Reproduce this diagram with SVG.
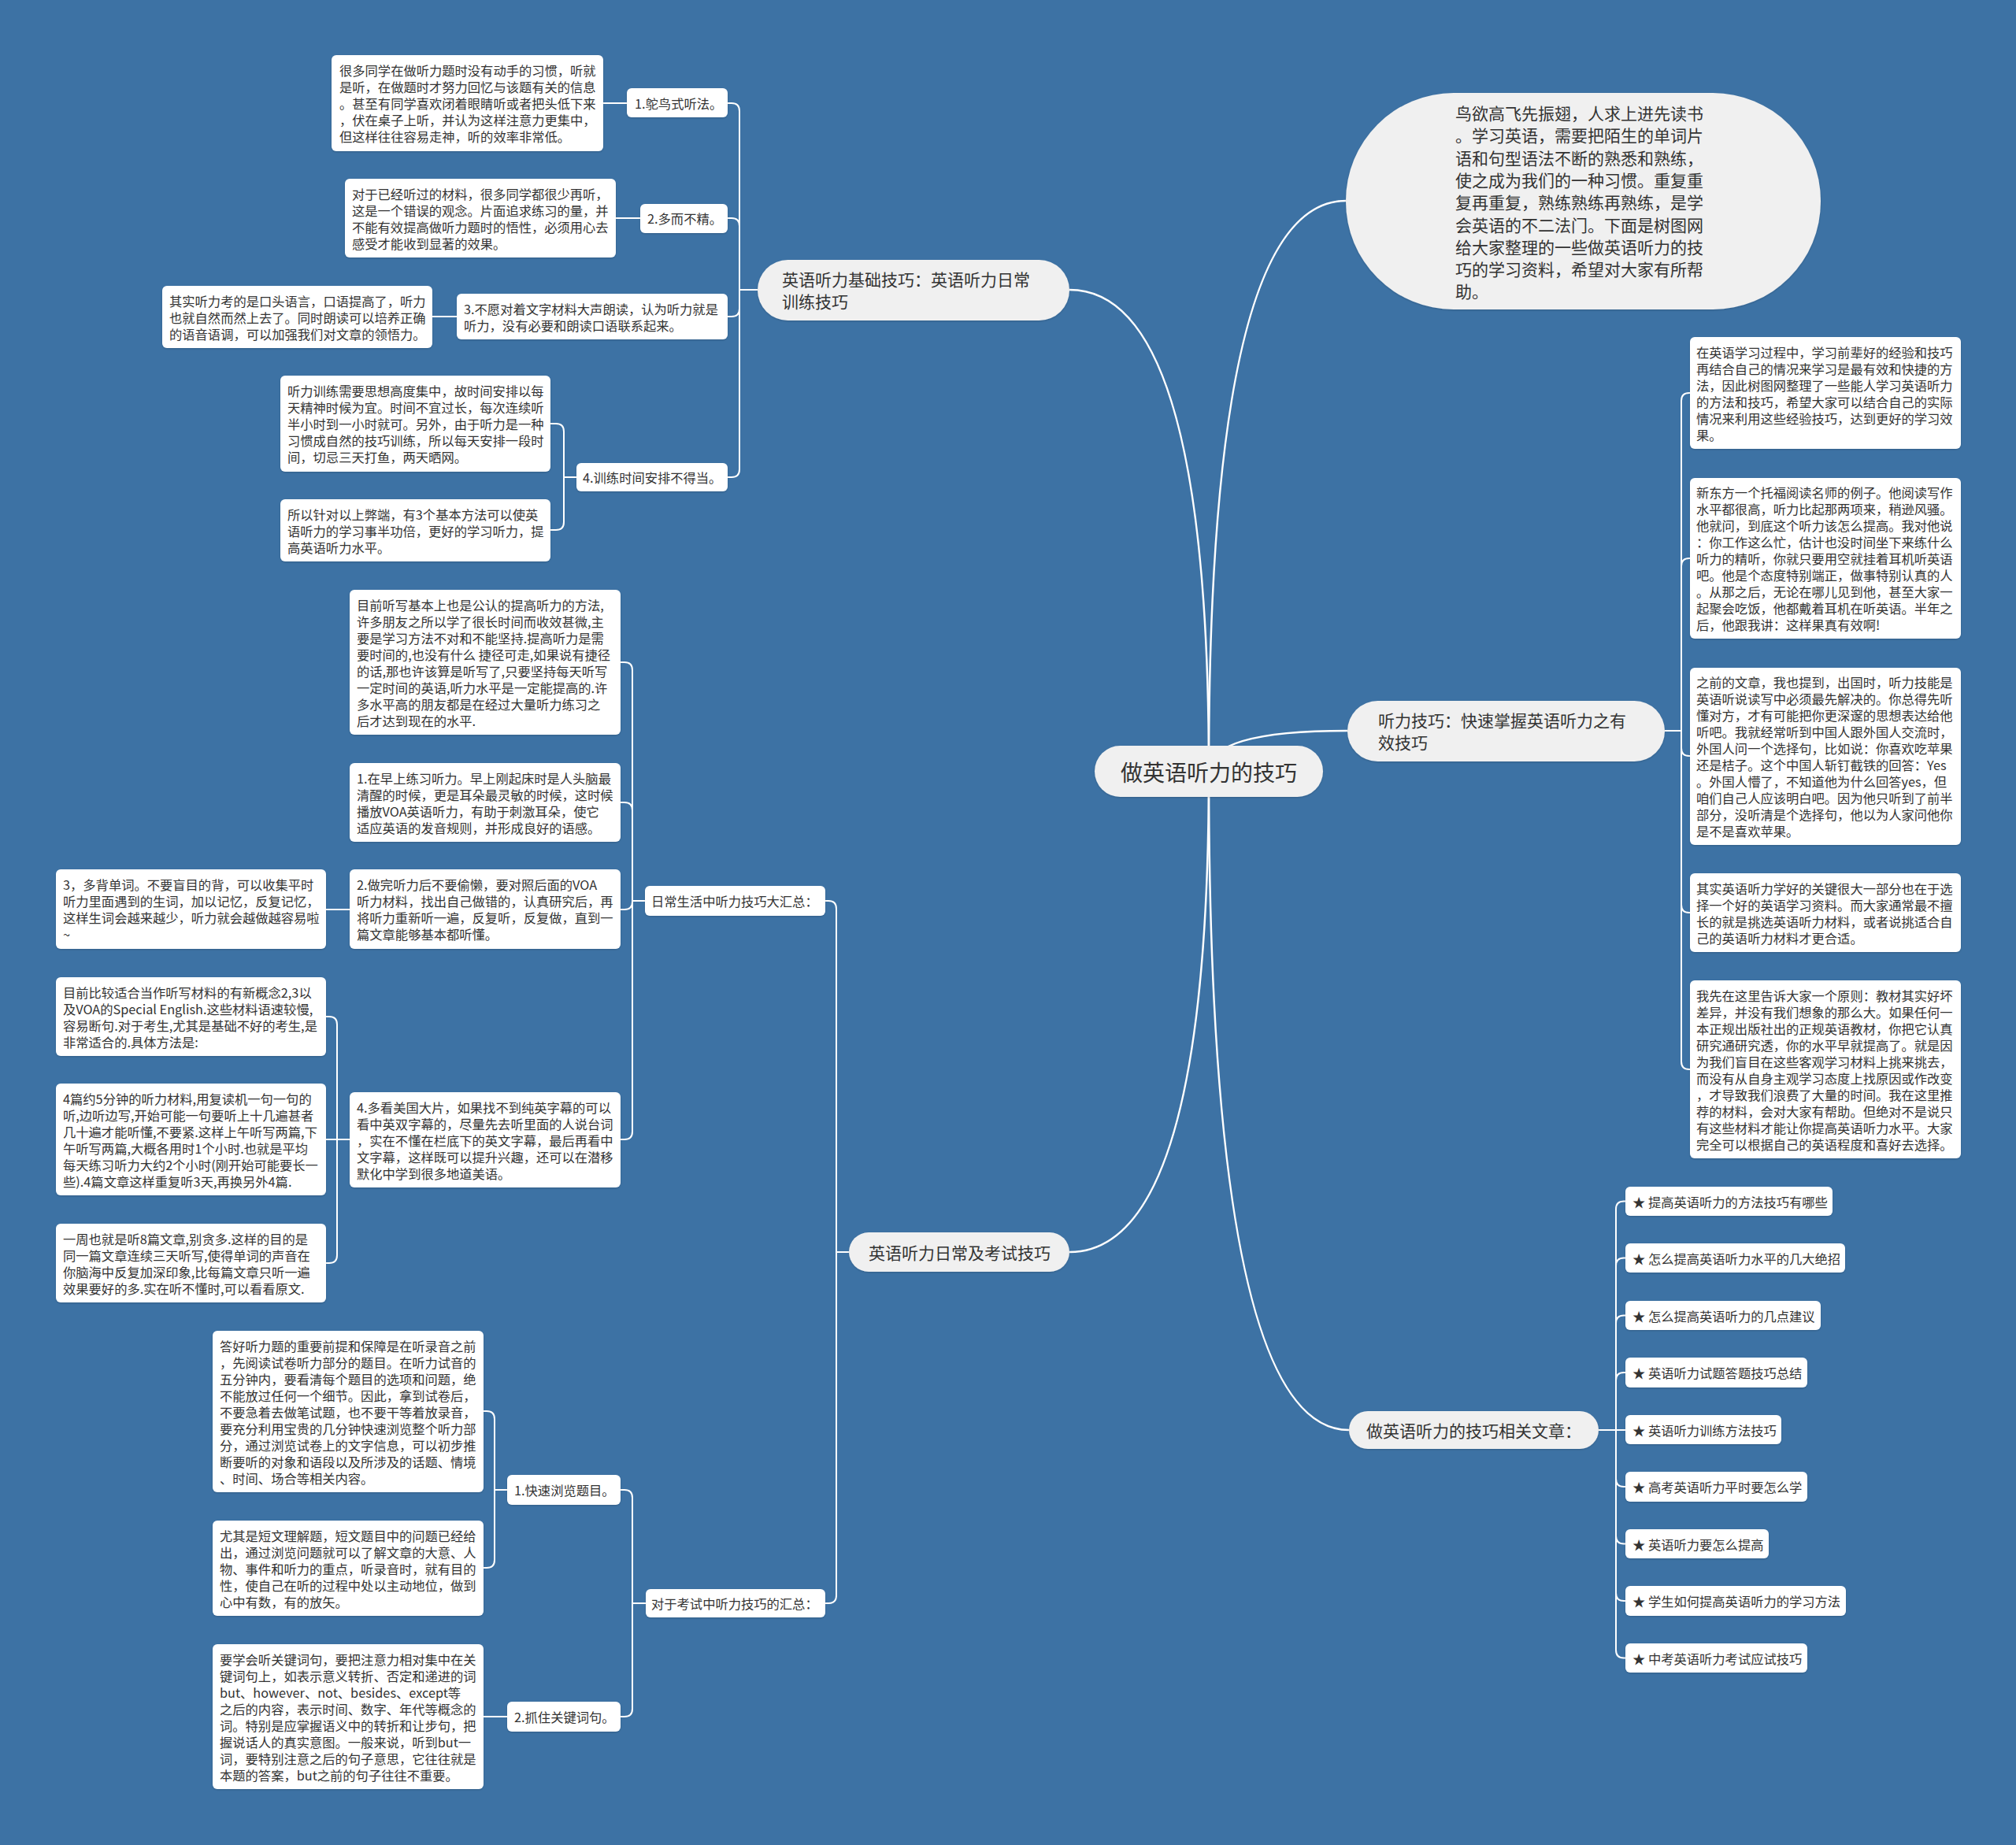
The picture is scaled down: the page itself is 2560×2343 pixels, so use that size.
<svg xmlns="http://www.w3.org/2000/svg" width="2560" height="2343" viewBox="0 0 2560 2343">
<defs>
<style>
.bg{fill:#3d72a4}
.n1{fill:#f0f0f0}
.n2{fill:#ffffff}
text{fill:#333333;font-family:"Noto Sans CJK SC","Noto Sans",sans-serif;dominant-baseline:central}
.s{font-size:16.3px}
.m{font-size:21px}
.big{font-size:28px}
.c{fill:none;stroke:#ffffff;stroke-width:2}
.c1{fill:none;stroke:#ffffff;stroke-width:2.5}
</style>
<filter id="sh" x="-5%" y="-5%" width="110%" height="115%">
<feDropShadow dx="0" dy="1" stdDeviation="1" flood-color="#000" flood-opacity="0.18"/>
</filter>
</defs>
<rect class="bg" x="0" y="0" width="2560" height="2343"/>

<g id="connectors">
<path class="c1" d="M1535,979 Q1535,368 1358,368"/>
<path class="c1" d="M1535,979 Q1535,255 1709,255"/>
<path class="c1" d="M1535,979 Q1535,928 1711,928"/>
<path class="c1" d="M1535,979 Q1535,1590 1358,1590"/>
<path class="c1" d="M1535,979 Q1535,1816 1713,1816"/>
<path class="c" d="M962,368 H939 V141 Q939,131 929,131 H924"/>
<path class="c" d="M962,368 H939 V287 Q939,277 929,277 H924"/>
<path class="c" d="M962,368 H939 V392 Q939,402 929,402 H924"/>
<path class="c" d="M962,368 H939 V596 Q939,606 929,606 H924"/>
<path class="c" d="M796,131 H766"/>
<path class="c" d="M813,277 H782"/>
<path class="c" d="M580,402 H549"/>
<path class="c" d="M732,606 H716 V548 Q716,538 706,538 H699"/>
<path class="c" d="M732,606 H716 V663 Q716,673 706,673 H699"/>
<path class="c" d="M1078,1590 H1062 V1154 Q1062,1144 1052,1144 H1048"/>
<path class="c" d="M1078,1590 H1062 V2026 Q1062,2036 1052,2036 H1048"/>
<path class="c" d="M819,1144 H803 V851 Q803,841 793,841 H788"/>
<path class="c" d="M819,1144 H803 V1029 Q803,1019 793,1019 H788"/>
<path class="c" d="M819,1144 H803 V1145 Q803,1155 793,1155 H788"/>
<path class="c" d="M819,1144 H803 V1437 Q803,1447 793,1447 H788"/>
<path class="c" d="M444,1155 H414"/>
<path class="c" d="M444,1447 H428 V1301 Q428,1291 418,1291 H414"/>
<path class="c" d="M444,1447 H414"/>
<path class="c" d="M444,1447 H428 V1594 Q428,1604 418,1604 H414"/>
<path class="c" d="M820,2036 H803 V1902 Q803,1892 793,1892 H788"/>
<path class="c" d="M820,2036 H803 V2170 Q803,2180 793,2180 H788"/>
<path class="c" d="M644,1892 H628 V1802 Q628,1792 618,1792 H614"/>
<path class="c" d="M644,1892 H628 V1981 Q628,1991 618,1991 H614"/>
<path class="c" d="M644,2180 H614"/>
<path class="c" d="M2114,928 H2135 V509 Q2135,499 2145,499 H2146"/>
<path class="c" d="M2114,928 H2135 V719 Q2135,709 2145,709 H2146"/>
<path class="c" d="M2114,928 H2135 V950 Q2135,960 2145,960 H2146"/>
<path class="c" d="M2114,928 H2135 V1149 Q2135,1159 2145,1159 H2146"/>
<path class="c" d="M2114,928 H2135 V1348 Q2135,1358 2145,1358 H2146"/>
<path class="c" d="M2030,1816 H2052 V1535.5 Q2052,1525.5 2062,1525.5 H2064"/>
<path class="c" d="M2030,1816 H2052 V1607.5 Q2052,1597.5 2062,1597.5 H2064"/>
<path class="c" d="M2030,1816 H2052 V1680.5 Q2052,1670.5 2062,1670.5 H2064"/>
<path class="c" d="M2030,1816 H2052 V1753 Q2052,1743 2062,1743 H2064"/>
<path class="c" d="M2030,1816 H2064"/>
<path class="c" d="M2030,1816 H2052 V1878 Q2052,1888 2062,1888 H2064"/>
<path class="c" d="M2030,1816 H2052 V1950.5 Q2052,1960.5 2062,1960.5 H2064"/>
<path class="c" d="M2030,1816 H2052 V2023 Q2052,2033 2062,2033 H2064"/>
<path class="c" d="M2030,1816 H2052 V2095.5 Q2052,2105.5 2062,2105.5 H2064"/>
</g>

<g id="root">
<rect class="n1" x="1390" y="947" width="290" height="65" rx="32.5" filter="url(#sh)"/>
<text class="big" x="1535" y="979.5" text-anchor="middle">做英语听力的技巧</text>
</g>

<g id="intro">
<rect class="n1" x="1709" y="118" width="603" height="275" rx="137" filter="url(#sh)"/>
<text class="m"><tspan x="1848" y="143">鸟欲高飞先振翅，人求上进先读书</tspan><tspan x="1848" y="171.3">。学习英语，需要把陌生的单词片</tspan><tspan x="1848" y="199.6">语和句型语法不断的熟悉和熟练，</tspan><tspan x="1848" y="227.9">使之成为我们的一种习惯。重复重</tspan><tspan x="1848" y="256.2">复再重复，熟练熟练再熟练，是学</tspan><tspan x="1848" y="284.5">会英语的不二法门。下面是树图网</tspan><tspan x="1848" y="312.8">给大家整理的一些做英语听力的技</tspan><tspan x="1848" y="341.1">巧的学习资料，希望对大家有所帮</tspan><tspan x="1848" y="369.4">助。</tspan></text>
</g>

<g id="b-basic">
<rect class="n1" x="962" y="330" width="396" height="77" rx="38.5" filter="url(#sh)"/>
<text class="m"><tspan x="993" y="354">英语听力基础技巧：英语听力日常</tspan><tspan x="993" y="382">训练技巧</tspan></text>
</g>
<g id="a1">
<rect class="n2" x="796" y="112" width="128" height="37" rx="6" filter="url(#sh)"/>
<text class="s" x="806" y="131">1.鸵鸟式听法。</text>
</g>
<g id="a1d">
<rect class="n2" x="421" y="70" width="345" height="122" rx="6" filter="url(#sh)"/>
<text class="s"><tspan x="431" y="89">很多同学在做听力题时没有动手的习惯，听就</tspan><tspan x="431" y="110">是听，在做题时才努力回忆与该题有关的信息</tspan><tspan x="431" y="131">。甚至有同学喜欢闭着眼睛听或者把头低下来</tspan><tspan x="431" y="152">，伏在桌子上听，并认为这样注意力更集中，</tspan><tspan x="431" y="173">但这样往往容易走神，听的效率非常低。</tspan></text>
</g>
<g id="a2">
<rect class="n2" x="813" y="259" width="111" height="37" rx="6" filter="url(#sh)"/>
<text class="s" x="822" y="277">2.多而不精。</text>
</g>
<g id="a2d">
<rect class="n2" x="438" y="227" width="344" height="100" rx="6" filter="url(#sh)"/>
<text class="s"><tspan x="447" y="245.5">对于已经听过的材料，很多同学都很少再听，</tspan><tspan x="447" y="266.5">这是一个错误的观念。片面追求练习的量，并</tspan><tspan x="447" y="287.5">不能有效提高做听力题时的悟性，必须用心去</tspan><tspan x="447" y="308.5">感受才能收到显著的效果。</tspan></text>
</g>
<g id="a3">
<rect class="n2" x="580" y="373" width="344" height="58" rx="6" filter="url(#sh)"/>
<text class="s"><tspan x="589" y="392">3.不愿对着文字材料大声朗读，认为听力就是</tspan><tspan x="589" y="413">听力，没有必要和朗读口语联系起来。</tspan></text>
</g>
<g id="a3d">
<rect class="n2" x="206" y="363" width="343" height="79" rx="6" filter="url(#sh)"/>
<text class="s"><tspan x="215" y="381.5">其实听力考的是口头语言，口语提高了，听力</tspan><tspan x="215" y="402.5">也就自然而然上去了。同时朗读可以培养正确</tspan><tspan x="215" y="423.5">的语音语调，可以加强我们对文章的领悟力。</tspan></text>
</g>
<g id="a4">
<rect class="n2" x="732" y="588" width="192" height="36" rx="6" filter="url(#sh)"/>
<text class="s" x="740" y="606">4.训练时间安排不得当。</text>
</g>
<g id="a4a">
<rect class="n2" x="356" y="477" width="343" height="122" rx="6" filter="url(#sh)"/>
<text class="s"><tspan x="365" y="496">听力训练需要思想高度集中，故时间安排以每</tspan><tspan x="365" y="517">天精神时候为宜。时间不宜过长，每次连续听</tspan><tspan x="365" y="538">半小时到一小时就可。另外，由于听力是一种</tspan><tspan x="365" y="559">习惯成自然的技巧训练，所以每天安排一段时</tspan><tspan x="365" y="580">间，切忌三天打鱼，两天晒网。</tspan></text>
</g>
<g id="a4b">
<rect class="n2" x="356" y="634" width="343" height="79" rx="6" filter="url(#sh)"/>
<text class="s"><tspan x="365" y="652.5">所以针对以上弊端，有3个基本方法可以使英</tspan><tspan x="365" y="673.5">语听力的学习事半功倍，更好的学习听力，提</tspan><tspan x="365" y="694.5">高英语听力水平。</tspan></text>
</g>

<g id="b-daily-exam">
<rect class="n1" x="1078" y="1565" width="280" height="50" rx="25" filter="url(#sh)"/>
<text class="m" x="1103" y="1590">英语听力日常及考试技巧</text>
</g>
<g id="b-daily">
<rect class="n2" x="819" y="1125" width="229" height="38" rx="6" filter="url(#sh)"/>
<text class="s" x="827" y="1144">日常生活中听力技巧大汇总：</text>
</g>
<g id="bd1">
<rect class="n2" x="444" y="749" width="344" height="184" rx="6" filter="url(#sh)"/>
<text class="s"><tspan x="453" y="767.5">目前听写基本上也是公认的提高听力的方法,</tspan><tspan x="453" y="788.5">许多朋友之所以学了很长时间而收效甚微,主</tspan><tspan x="453" y="809.5">要是学习方法不对和不能坚持.提高听力是需</tspan><tspan x="453" y="830.5">要时间的,也没有什么 捷径可走,如果说有捷径</tspan><tspan x="453" y="851.5">的话,那也许该算是听写了,只要坚持每天听写</tspan><tspan x="453" y="872.5">一定时间的英语,听力水平是一定能提高的.许</tspan><tspan x="453" y="893.5">多水平高的朋友都是在经过大量听力练习之</tspan><tspan x="453" y="914.5">后才达到现在的水平.</tspan></text>
</g>
<g id="bd2">
<rect class="n2" x="444" y="969" width="344" height="100" rx="6" filter="url(#sh)"/>
<text class="s"><tspan x="453" y="987.5">1.在早上练习听力。早上刚起床时是人头脑最</tspan><tspan x="453" y="1008.5">清醒的时候，更是耳朵最灵敏的时候，这时候</tspan><tspan x="453" y="1029.5">播放VOA英语听力，有助于刺激耳朵，使它</tspan><tspan x="453" y="1050.5">适应英语的发音规则，并形成良好的语感。</tspan></text>
</g>
<g id="bd3">
<rect class="n2" x="444" y="1104" width="344" height="101" rx="6" filter="url(#sh)"/>
<text class="s"><tspan x="453" y="1123">2.做完听力后不要偷懒，要对照后面的VOA</tspan><tspan x="453" y="1144">听力材料，找出自己做错的，认真研究后，再</tspan><tspan x="453" y="1165">将听力重新听一遍，反复听，反复做，直到一</tspan><tspan x="453" y="1186">篇文章能够基本都听懂。</tspan></text>
</g>
<g id="bd3a">
<rect class="n2" x="71" y="1104" width="343" height="101" rx="6" filter="url(#sh)"/>
<text class="s"><tspan x="80" y="1123">3，多背单词。不要盲目的背，可以收集平时</tspan><tspan x="80" y="1144">听力里面遇到的生词，加以记忆，反复记忆，</tspan><tspan x="80" y="1165">这样生词会越来越少，听力就会越做越容易啦</tspan><tspan x="80" y="1186">~</tspan></text>
</g>
<g id="bd4">
<rect class="n2" x="444" y="1387" width="344" height="121" rx="6" filter="url(#sh)"/>
<text class="s"><tspan x="453" y="1405.5">4.多看美国大片，如果找不到纯英字幕的可以</tspan><tspan x="453" y="1426.5">看中英双字幕的，尽量先去听里面的人说台词</tspan><tspan x="453" y="1447.5">，实在不懂在栏底下的英文字幕，最后再看中</tspan><tspan x="453" y="1468.5">文字幕，这样既可以提升兴趣，还可以在潜移</tspan><tspan x="453" y="1489.5">默化中学到很多地道美语。</tspan></text>
</g>
<g id="bd4a">
<rect class="n2" x="71" y="1241" width="343" height="100" rx="6" filter="url(#sh)"/>
<text class="s"><tspan x="80" y="1259.5">目前比较适合当作听写材料的有新概念2,3以</tspan><tspan x="80" y="1280.5">及VOA的Special English.这些材料语速较慢,</tspan><tspan x="80" y="1301.5">容易断句.对于考生,尤其是基础不好的考生,是</tspan><tspan x="80" y="1322.5">非常适合的.具体方法是:</tspan></text>
</g>
<g id="bd4b">
<rect class="n2" x="71" y="1376" width="343" height="142" rx="6" filter="url(#sh)"/>
<text class="s"><tspan x="80" y="1394.5">4篇约5分钟的听力材料,用复读机一句一句的</tspan><tspan x="80" y="1415.5">听,边听边写,开始可能一句要听上十几遍甚者</tspan><tspan x="80" y="1436.5">几十遍才能听懂,不要紧.这样上午听写两篇,下</tspan><tspan x="80" y="1457.5">午听写两篇,大概各用时1个小时.也就是平均</tspan><tspan x="80" y="1478.5">每天练习听力大约2个小时(刚开始可能要长一</tspan><tspan x="80" y="1499.5">些).4篇文章这样重复听3天,再换另外4篇.</tspan></text>
</g>
<g id="bd4c">
<rect class="n2" x="71" y="1554" width="343" height="100" rx="6" filter="url(#sh)"/>
<text class="s"><tspan x="80" y="1572.5">一周也就是听8篇文章,别贪多.这样的目的是</tspan><tspan x="80" y="1593.5">同一篇文章连续三天听写,使得单词的声音在</tspan><tspan x="80" y="1614.5">你脑海中反复加深印象,比每篇文章只听一遍</tspan><tspan x="80" y="1635.5">效果要好的多.实在听不懂时,可以看看原文.</tspan></text>
</g>
<g id="b-exam">
<rect class="n2" x="820" y="2018" width="228" height="36" rx="6" filter="url(#sh)"/>
<text class="s" x="827" y="2036">对于考试中听力技巧的汇总：</text>
</g>
<g id="c1">
<rect class="n2" x="644" y="1873" width="144" height="38" rx="6" filter="url(#sh)"/>
<text class="s" x="653" y="1892">1.快速浏览题目。</text>
</g>
<g id="c1a">
<rect class="n2" x="270" y="1690" width="344" height="205" rx="6" filter="url(#sh)"/>
<text class="s"><tspan x="279" y="1708.5">答好听力题的重要前提和保障是在听录音之前</tspan><tspan x="279" y="1729.5">，先阅读试卷听力部分的题目。在听力试音的</tspan><tspan x="279" y="1750.5">五分钟内，要看清每个题目的选项和问题，绝</tspan><tspan x="279" y="1771.5">不能放过任何一个细节。因此，拿到试卷后，</tspan><tspan x="279" y="1792.5">不要急着去做笔试题，也不要干等着放录音，</tspan><tspan x="279" y="1813.5">要充分利用宝贵的几分钟快速浏览整个听力部</tspan><tspan x="279" y="1834.5">分，通过浏览试卷上的文字信息，可以初步推</tspan><tspan x="279" y="1855.5">断要听的对象和语段以及所涉及的话题、情境</tspan><tspan x="279" y="1876.5">、时间、场合等相关内容。</tspan></text>
</g>
<g id="c1b">
<rect class="n2" x="270" y="1931" width="344" height="121" rx="6" filter="url(#sh)"/>
<text class="s"><tspan x="279" y="1949.5">尤其是短文理解题，短文题目中的问题已经给</tspan><tspan x="279" y="1970.5">出，通过浏览问题就可以了解文章的大意、人</tspan><tspan x="279" y="1991.5">物、事件和听力的重点，听录音时，就有目的</tspan><tspan x="279" y="2012.5">性，使自己在听的过程中处以主动地位，做到</tspan><tspan x="279" y="2033.5">心中有数，有的放矢。</tspan></text>
</g>
<g id="c2">
<rect class="n2" x="644" y="2161" width="144" height="38" rx="6" filter="url(#sh)"/>
<text class="s" x="653" y="2180">2.抓住关键词句。</text>
</g>
<g id="c2a">
<rect class="n2" x="270" y="2088" width="344" height="184" rx="6" filter="url(#sh)"/>
<text class="s"><tspan x="279" y="2106.5">要学会听关键词句，要把注意力相对集中在关</tspan><tspan x="279" y="2127.5">键词句上，如表示意义转折、否定和递进的词</tspan><tspan x="279" y="2148.5">but、however、not、besides、except等</tspan><tspan x="279" y="2169.5">之后的内容，表示时间、数字、年代等概念的</tspan><tspan x="279" y="2190.5">词。特别是应掌握语义中的转折和让步句，把</tspan><tspan x="279" y="2211.5">握说话人的真实意图。一般来说，听到but一</tspan><tspan x="279" y="2232.5">词，要特别注意之后的句子意思，它往往就是</tspan><tspan x="279" y="2253.5">本题的答案，but之前的句子往往不重要。</tspan></text>
</g>

<g id="b-skills">
<rect class="n1" x="1711" y="890" width="403" height="77" rx="38.5" filter="url(#sh)"/>
<text class="m"><tspan x="1750" y="914">听力技巧：快速掌握英语听力之有</tspan><tspan x="1750" y="942">效技巧</tspan></text>
</g>
<g id="r1">
<rect class="n2" x="2146" y="428" width="344" height="142" rx="6" filter="url(#sh)"/>
<text class="s"><tspan x="2154" y="446.5">在英语学习过程中，学习前辈好的经验和技巧</tspan><tspan x="2154" y="467.5">再结合自己的情况来学习是最有效和快捷的方</tspan><tspan x="2154" y="488.5">法，因此树图网整理了一些能人学习英语听力</tspan><tspan x="2154" y="509.5">的方法和技巧，希望大家可以结合自己的实际</tspan><tspan x="2154" y="530.5">情况来利用这些经验技巧，达到更好的学习效</tspan><tspan x="2154" y="551.5">果。</tspan></text>
</g>
<g id="r2">
<rect class="n2" x="2146" y="607" width="344" height="204" rx="6" filter="url(#sh)"/>
<text class="s"><tspan x="2154" y="625">新东方一个托福阅读名师的例子。他阅读写作</tspan><tspan x="2154" y="646">水平都很高，听力比起那两项来，稍逊风骚。</tspan><tspan x="2154" y="667">他就问，到底这个听力该怎么提高。我对他说</tspan><tspan x="2154" y="688">：你工作这么忙，估计也没时间坐下来练什么</tspan><tspan x="2154" y="709">听力的精听，你就只要用空就挂着耳机听英语</tspan><tspan x="2154" y="730">吧。他是个态度特别端正，做事特别认真的人</tspan><tspan x="2154" y="751">。从那之后，无论在哪儿见到他，甚至大家一</tspan><tspan x="2154" y="772">起聚会吃饭，他都戴着耳机在听英语。半年之</tspan><tspan x="2154" y="793">后，他跟我讲：这样果真有效啊!</tspan></text>
</g>
<g id="r3">
<rect class="n2" x="2146" y="848" width="344" height="225" rx="6" filter="url(#sh)"/>
<text class="s"><tspan x="2154" y="866">之前的文章，我也提到，出国时，听力技能是</tspan><tspan x="2154" y="887">英语听说读写中必须最先解决的。你总得先听</tspan><tspan x="2154" y="908">懂对方，才有可能把你更深邃的思想表达给他</tspan><tspan x="2154" y="929">听吧。我就经常听到中国人跟外国人交流时，</tspan><tspan x="2154" y="950">外国人问一个选择句，比如说：你喜欢吃苹果</tspan><tspan x="2154" y="971">还是桔子。这个中国人斩钉截铁的回答：Yes</tspan><tspan x="2154" y="992">。外国人懵了，不知道他为什么回答yes，但</tspan><tspan x="2154" y="1013">咱们自己人应该明白吧。因为他只听到了前半</tspan><tspan x="2154" y="1034">部分，没听清是个选择句，他以为人家问他你</tspan><tspan x="2154" y="1055">是不是喜欢苹果。</tspan></text>
</g>
<g id="r4">
<rect class="n2" x="2146" y="1109" width="344" height="100" rx="6" filter="url(#sh)"/>
<text class="s"><tspan x="2154" y="1127.5">其实英语听力学好的关键很大一部分也在于选</tspan><tspan x="2154" y="1148.5">择一个好的英语学习资料。而大家通常最不擅</tspan><tspan x="2154" y="1169.5">长的就是挑选英语听力材料，或者说挑适合自</tspan><tspan x="2154" y="1190.5">己的英语听力材料才更合适。</tspan></text>
</g>
<g id="r5">
<rect class="n2" x="2146" y="1245" width="344" height="226" rx="6" filter="url(#sh)"/>
<text class="s"><tspan x="2154" y="1263.5">我先在这里告诉大家一个原则：教材其实好坏</tspan><tspan x="2154" y="1284.5">差异，并没有我们想象的那么大。如果任何一</tspan><tspan x="2154" y="1305.5">本正规出版社出的正规英语教材，你把它认真</tspan><tspan x="2154" y="1326.5">研究通研究透，你的水平早就提高了。就是因</tspan><tspan x="2154" y="1347.5">为我们盲目在这些客观学习材料上挑来挑去，</tspan><tspan x="2154" y="1368.5">而没有从自身主观学习态度上找原因或作改变</tspan><tspan x="2154" y="1389.5">，才导致我们浪费了大量的时间。我在这里推</tspan><tspan x="2154" y="1410.5">荐的材料，会对大家有帮助。但绝对不是说只</tspan><tspan x="2154" y="1431.5">有这些材料才能让你提高英语听力水平。大家</tspan><tspan x="2154" y="1452.5">完全可以根据自己的英语程度和喜好去选择。</tspan></text>
</g>

<g id="b-related">
<rect class="n1" x="1713" y="1792" width="317" height="48" rx="24" filter="url(#sh)"/>
<text class="m" x="1735" y="1816">做英语听力的技巧相关文章：</text>
</g>
<g id="l1"><rect class="n2" x="2064" y="1507" width="263" height="37" rx="6" filter="url(#sh)"/><text class="s" x="2073" y="1525.5">★ 提高英语听力的方法技巧有哪些</text></g>
<g id="l2"><rect class="n2" x="2064" y="1579" width="279" height="37" rx="6" filter="url(#sh)"/><text class="s" x="2073" y="1597.5">★ 怎么提高英语听力水平的几大绝招</text></g>
<g id="l3"><rect class="n2" x="2064" y="1652" width="248" height="37" rx="6" filter="url(#sh)"/><text class="s" x="2073" y="1670.5">★ 怎么提高英语听力的几点建议</text></g>
<g id="l4"><rect class="n2" x="2064" y="1724" width="231" height="38" rx="6" filter="url(#sh)"/><text class="s" x="2073" y="1743">★ 英语听力试题答题技巧总结</text></g>
<g id="l5"><rect class="n2" x="2064" y="1797" width="198" height="37" rx="6" filter="url(#sh)"/><text class="s" x="2073" y="1815.5">★ 英语听力训练方法技巧</text></g>
<g id="l6"><rect class="n2" x="2064" y="1869" width="231" height="38" rx="6" filter="url(#sh)"/><text class="s" x="2073" y="1888">★ 高考英语听力平时要怎么学</text></g>
<g id="l7"><rect class="n2" x="2064" y="1942" width="182" height="37" rx="6" filter="url(#sh)"/><text class="s" x="2073" y="1960.5">★ 英语听力要怎么提高</text></g>
<g id="l8"><rect class="n2" x="2064" y="2014" width="280" height="38" rx="6" filter="url(#sh)"/><text class="s" x="2073" y="2033">★ 学生如何提高英语听力的学习方法</text></g>
<g id="l9"><rect class="n2" x="2064" y="2087" width="231" height="37" rx="6" filter="url(#sh)"/><text class="s" x="2073" y="2105.5">★ 中考英语听力考试应试技巧</text></g>
</svg>
